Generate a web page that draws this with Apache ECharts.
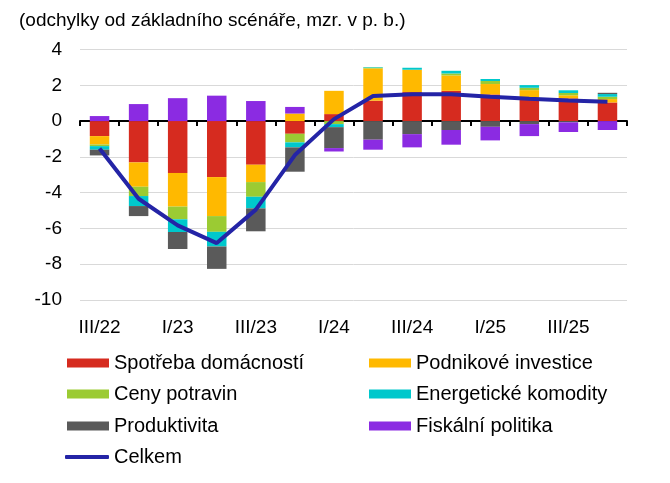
<!DOCTYPE html>
<html>
<head>
<meta charset="utf-8">
<script src="https://cdn.jsdelivr.net/npm/echarts@6/dist/echarts.min.js"></script>
<style>html,body{margin:0;padding:0;background:#fff;}#c{width:670px;height:483px;}</style>
</head>
<body>
<div id="c"></div>
<script>
var categories = ['III/22','IV/22','I/23','II/23','III/23','IV/23','I/24','II/24','III/24','IV/24','I/25','II/25','III/25','IV/25'];
var spotreba = [-0.84, -2.31, -2.9, -3.13, -2.44, -0.71, 0.39, 1.14, 1.62, 1.69, 1.49, 1.3, 1.27, 1.04];
var investice = [-0.47, -1.36, -1.88, -2.18, -0.97, 0.42, 1.3, 1.8, 1.25, 0.86, 0.58, 0.43, 0.17, 0.19];
var potraviny = [-0.09, -0.52, -0.71, -0.88, -0.82, -0.48, -0.17, 0.05, 0, 0.11, 0.17, 0.13, 0.13, 0.13];
var energie = [-0.2, -0.56, -0.71, -0.82, -0.65, -0.28, -0.17, 0.03, 0.11, 0.15, 0.11, 0.15, 0.15, 0.15];
var produktivita = [-0.32, -0.56, -0.95, -1.25, -1.28, -1.36, -1.17, -1.04, -0.73, -0.5, -0.32, -0.17, -0.07, 0.07];
var fiskalni = [0.28, 0.95, 1.28, 1.42, 1.12, 0.37, -0.19, -0.56, -0.74, -0.82, -0.76, -0.67, -0.54, -0.5];
var celkem = [-1.53, -4.34, -5.83, -6.82, -4.95, -1.9, 0.11, 1.4, 1.5, 1.5, 1.36, 1.25, 1.15, 1.08];
var yTicks = {min: -10, max: 4, interval: 2};

var FONT = 'Liberation Sans, Arial, sans-serif';
var names = ['Spotřeba domácností','Podnikové investice','Ceny potravin','Energetické komodity','Produktivita','Fiskální politika','Celkem'];
var colors = ['#D62B1F','#FFB900','#9BCB33','#00C8CC','#5A5A5A','#8B2BE2','#2424A6'];
var values = [spotreba, investice, potraviny, energie, produktivita, fiskalni];

var series = values.map(function(v, i){
  return {
    name: names[i], type: 'bar', stack: 'a', data: v, barWidth: 19.5,
    xAxisIndex: 0, yAxisIndex: 0,
    itemStyle: {color: colors[i]}
  };
});
series.push({
  name: 'Celkem', type: 'line', data: celkem, symbol: 'none', z: 10,
  xAxisIndex: 0, yAxisIndex: 0,
  lineStyle: {color: colors[6], width: 4}, itemStyle: {color: colors[6]}
});

var legendPos = [
  [67, 353], [369, 353],
  [67, 384], [369, 384],
  [67, 416], [369, 416],
  [65, 447]
];
var legends = names.map(function(n, i){
  var isLine = (i === 6);
  return {
    data: [{name: n, icon: isLine ? 'roundRect' : 'rect'}],
    left: legendPos[i][0], top: legendPos[i][1],
    padding: 0, itemWidth: isLine ? 44 : 42, itemHeight: isLine ? 4 : 9, itemGap: 0,
    selectedMode: false,
    textStyle: {fontFamily: FONT, fontSize: 20, color: '#000'}
  };
});

var chart = echarts.init(document.getElementById('c'), null, {renderer: 'canvas'});
chart.setOption({
  animation: false,
  backgroundColor: '#fff',
  title: {
    text: '(odchylky od základního scénáře, mzr. v p. b.)',
    left: 14, top: 6,
    textStyle: {fontFamily: FONT, fontSize: 19, fontWeight: 'normal', color: '#000'}
  },
  legend: legends,
  grid: {left: 80, right: 43, top: 49.5, bottom: 183, containLabel: false},
  xAxis: [{
    type: 'category', data: categories, boundaryGap: true,
    axisLine: {onZero: true, lineStyle: {color: '#000', width: 2}},
    axisTick: {show: true, alignWithLabel: false, interval: 0, length: 5, lineStyle: {color: '#000', width: 2}},
    axisLabel: {show: false}
  }, {
    type: 'category', data: categories, position: 'bottom', boundaryGap: true,
    axisLine: {show: false}, axisTick: {show: false},
    axisLabel: {interval: 1, margin: 18, fontFamily: FONT, fontSize: 19, color: '#000'}
  }],
  yAxis: [{
    type: 'value', min: yTicks.min, max: yTicks.max, interval: yTicks.interval,
    axisLine: {show: false}, axisTick: {show: false},
    axisLabel: {margin: 18, fontFamily: FONT, fontSize: 19, color: '#000'},
    splitLine: {lineStyle: {color: '#D9D9D9', width: 1}}
  }],
  series: series
});
</script>
</body>
</html>
